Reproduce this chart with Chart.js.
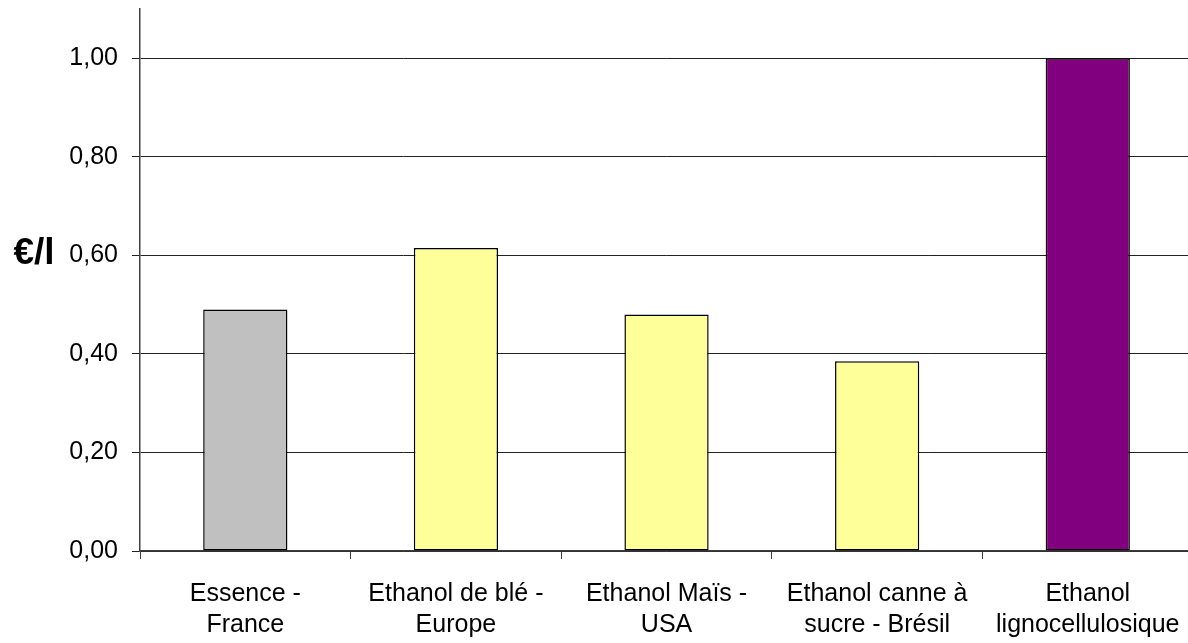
<!DOCTYPE html>
<html>
<head>
<meta charset="utf-8">
<script src="https://cdn.jsdelivr.net/npm/chart.js@4"></script>
<style>
  html, body { margin: 0; padding: 0; overflow: hidden; background: #fff; }
  #wrap { position: relative; width: 1200px; height: 643px; }
</style>
</head>
<body>
<div id="wrap"><canvas id="cost-chart"></canvas></div>
<script>
  // Production cost per litre
  const categories = [
    ['Essence -', 'France'],
    ['Ethanol de blé -', 'Europe'],
    ['Ethanol Maïs -', 'USA'],
    ['Ethanol canne à', 'sucre - Brésil'],
    ['Ethanol', 'lignocellulosique']
  ];
  const costValues = [0.49, 0.615, 0.48, 0.385, 1.00];
  const barColors = ['#C0C0C0', '#FFFF99', '#FFFF99', '#FFFF99', '#800080'];
  const yTickValues = [0, 0.2, 0.4, 0.6, 0.8, 1.0];
  const yAxisMax = 1.1;
  const unitLabel = '€/l';

  const FONT = '"Liberation Sans", Arial, sans-serif';

  // Draws the horizontal unit label left of the value axis
  const unitLabelPlugin = {
    id: 'unitLabel',
    afterDraw(chart) {
      const ctx = chart.ctx;
      const y = chart.scales.y.getPixelForValue(0.6);
      ctx.save();
      ctx.font = 'bold 37px ' + FONT;
      ctx.fillStyle = '#000';
      ctx.textAlign = 'center';
      ctx.textBaseline = 'alphabetic';
      ctx.fillText(unitLabel, 34, y + 9);
      ctx.restore();
    }
  };

  const ctxBar = document.getElementById('cost-chart').getContext('2d');
  window.costChart = new Chart(ctxBar, {
    type: 'bar',
    data: {
      labels: categories,
      datasets: [{
        label: unitLabel,
        data: costValues,
        backgroundColor: barColors,
        borderColor: '#000',
        borderWidth: 1.5,
        borderSkipped: false,
        barPercentage: 0.4,
        categoryPercentage: 1.0
      }]
    },
    options: {
      responsive: true,
      maintainAspectRatio: false,
      animation: false,
      layout: { padding: { top: 9, right: 5, left: 0, bottom: 0 } },
      plugins: {
        legend: { display: false },
        tooltip: { enabled: false }
      },
      scales: {
        x: {
          grid: {
            offset: true,
            drawOnChartArea: false,
            drawTicks: true,
            tickLength: 8,
            color: '#404040'
          },
          border: { color: '#404040', width: 1.5 },
          ticks: {
            color: '#000',
            padding: 20,
            maxRotation: 0,
            autoSkip: false,
            font: { family: FONT, size: 25, lineHeight: 1.24 }
          },
          afterFit(scale) { scale.height = 92; }
        },
        y: {
          min: 0,
          max: yAxisMax,
          grid: {
            color: '#222',
            lineWidth: 1,
            drawTicks: true,
            tickLength: 8
          },
          border: { color: '#404040', width: 1.5 },
          ticks: {
            color: '#000',
            padding: 14,
            font: { family: FONT, size: 25 },
            callback: (v) => v.toFixed(2).replace('.', ',')
          },
          afterBuildTicks(scale) {
            scale.ticks = yTickValues.map(v => ({ value: v }));
          },
          afterFit(scale) {
            scale.width = 140;
            scale.paddingTop = 0;
            scale.paddingBottom = 0;
          }
        }
      }
    },
    plugins: [unitLabelPlugin]
  });
</script>
</body>
</html>
